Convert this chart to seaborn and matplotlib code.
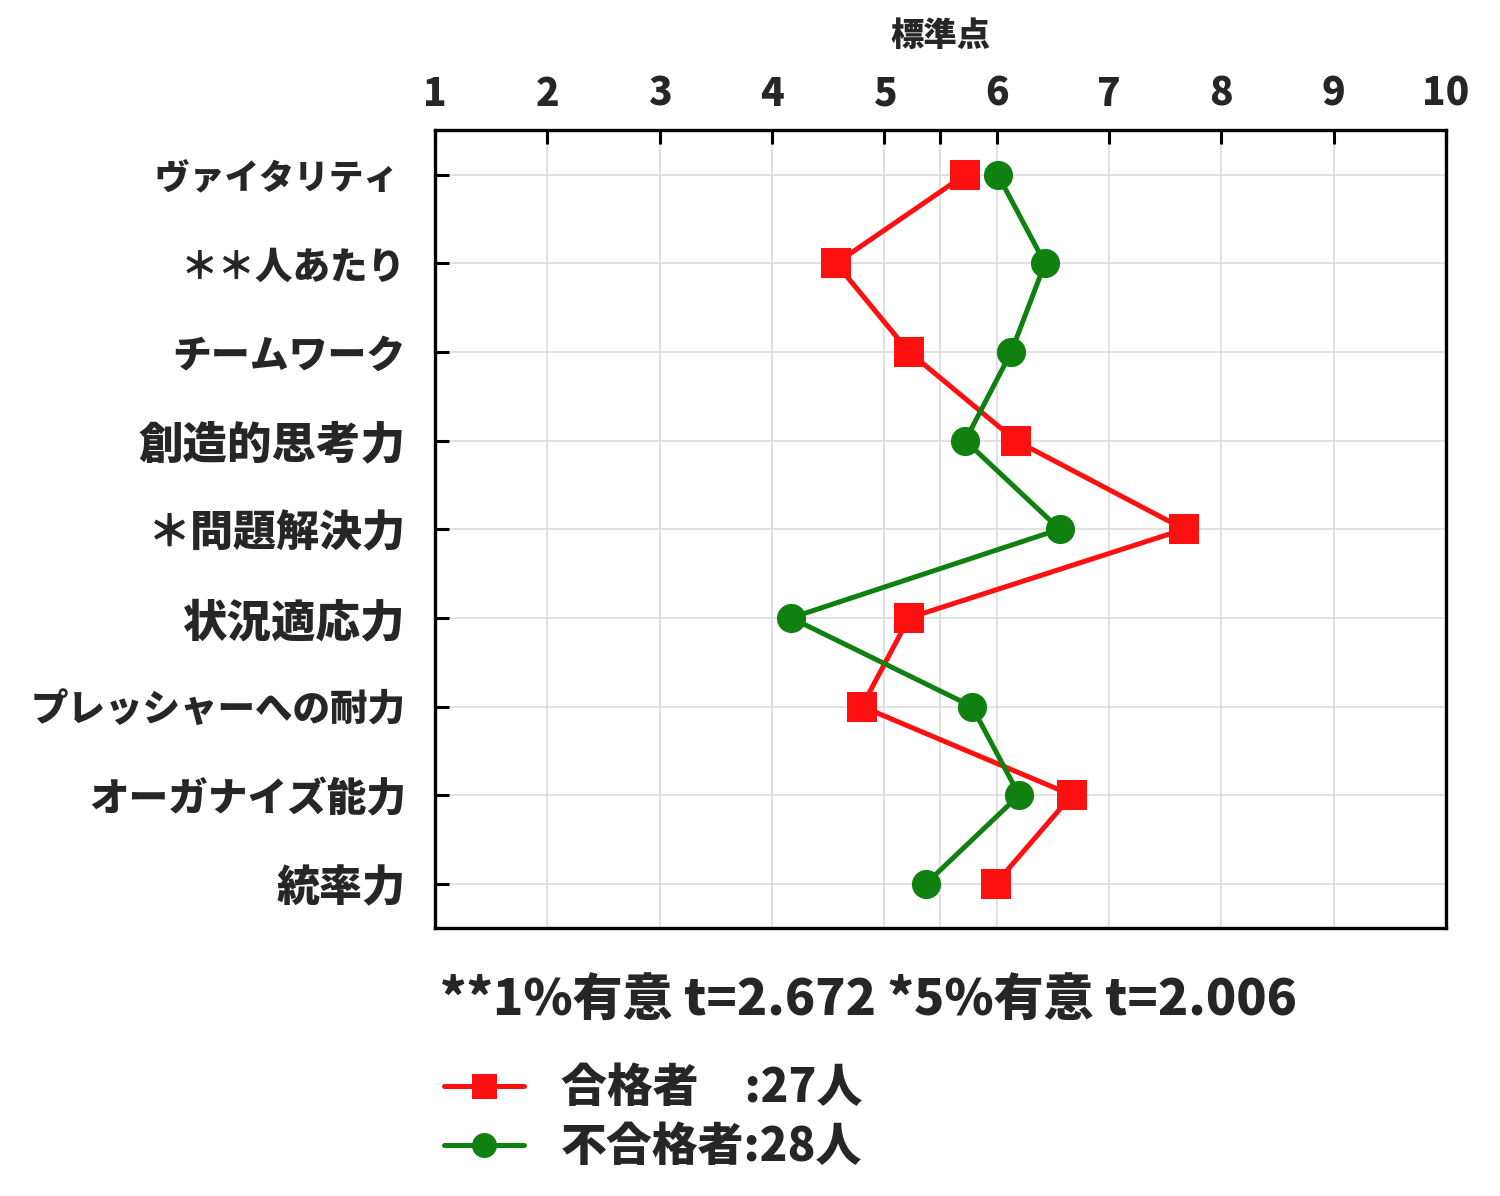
"""
標準点プロフィール: 合格者 vs 不合格者 (9 items).
"""
import numpy as np
import pandas as pd
import seaborn as sns
import matplotlib.pyplot as plt
from matplotlib.lines import Line2D

# items, top to bottom
items = ['ヴァイタリティ ', '＊＊人あたり', 'チームワーク', '創造的思考力', '＊問題解決力',
         '状況適応力', 'プレッシャーへの耐力', 'オーガナイズ能力', '統率力']

# standard scores
passed = [5.72, 4.57, 5.22, 6.17, 7.67, 5.22, 4.80, 6.67, 5.99]
failed = [6.01, 6.43, 6.13, 5.72, 6.56, 4.17, 5.78, 6.20, 5.37]

groups = ['合格者', '不合格者']
legend_labels = ['合格者\u3000:27人', '不合格者:28人']
xticks = [1, 2, 3, 4, 5, 5.5, 6, 7, 8, 9, 10]
xticklabels = ['1', '2', '3', '4', '5', '', '6', '7', '8', '9', '10']
note = '**1%有意 t=2.672 *5%有意 t=2.006'


def main():
    sns.set_theme(style='whitegrid')
    plt.rcParams['font.family'] = ['Noto Sans CJK JP', 'DejaVu Sans']
    plt.rcParams['font.weight'] = 'black'

    pos = np.arange(len(items))
    df = pd.DataFrame({
        '項目': np.concatenate([pos, pos]),
        '標準点': passed + failed,
        '群': [groups[0]] * len(items) + [groups[1]] * len(items),
    })

    colors = {'合格者': '#ff1010', '不合格者': '#108010'}
    marks = {'合格者': 's', '不合格者': 'o'}

    fig = plt.figure(figsize=(15, 11.96), dpi=100)
    ax = fig.add_axes([0.29, 0.224, 0.674, 0.667])

    sns.lineplot(data=df, x='標準点', y='項目', hue='群', style='群',
                 markers=marks, dashes=False, palette=colors,
                 estimator=None, sort=False, orient='y',
                 linewidth=3.6, markersize=21, markeredgewidth=0,
                 legend=False, ax=ax)

    ax.set_xlim(1, 10)
    ax.set_ylim(len(items) - 0.5, -0.5)
    ax.xaxis.tick_top()
    ax.xaxis.set_label_position('top')
    ax.set_xticks(xticks)
    ax.set_xticklabels(xticklabels)
    ax.set_yticks(pos)
    ax.set_yticklabels(items)
    ax.set_xlabel('標準点', fontsize=24, fontweight='black', labelpad=20)
    ax.set_ylabel('')

    ax.tick_params(axis='x', direction='in', length=10, width=2.2, color='black',
                   pad=12, labelsize=28, top=True, bottom=False)
    ax.tick_params(axis='y', direction='in', length=10, width=2.2, color='black',
                   pad=21, left=True)
    for lab in ax.get_xticklabels():
        lab.set_fontweight('black')
    # the katakana labels are set narrower in the original font
    label_sizes = [25, 27, 28, 32, 31, 32, 27, 28.5, 31]
    for lab, sz in zip(ax.get_yticklabels(), label_sizes):
        lab.set_fontweight('black')
        lab.set_fontsize(sz)

    ax.grid(True, color='#dcdcdc', linewidth=1.2)
    for s in ax.spines.values():
        s.set_color('black')
        s.set_linewidth(2.4)

    fig.text(0.293, 1 - 1000 / 1196, note, fontsize=36, fontweight='black',
             va='center', ha='left')

    handles = [Line2D([], [], color=colors[g], marker=marks[g], markersize=18,
                      linewidth=3.6, markeredgewidth=0) for g in groups]
    fig.legend(handles, legend_labels, loc='upper left',
               bbox_to_anchor=(0.284, 1 - 1047 / 1196), frameon=False,
               prop={'size': 33, 'weight': 'black'}, handlelength=1.74,
               handletextpad=0.8, labelspacing=0.25, borderaxespad=0)

    fig.savefig('out.png', dpi=100)


if __name__ == '__main__':
    main()
